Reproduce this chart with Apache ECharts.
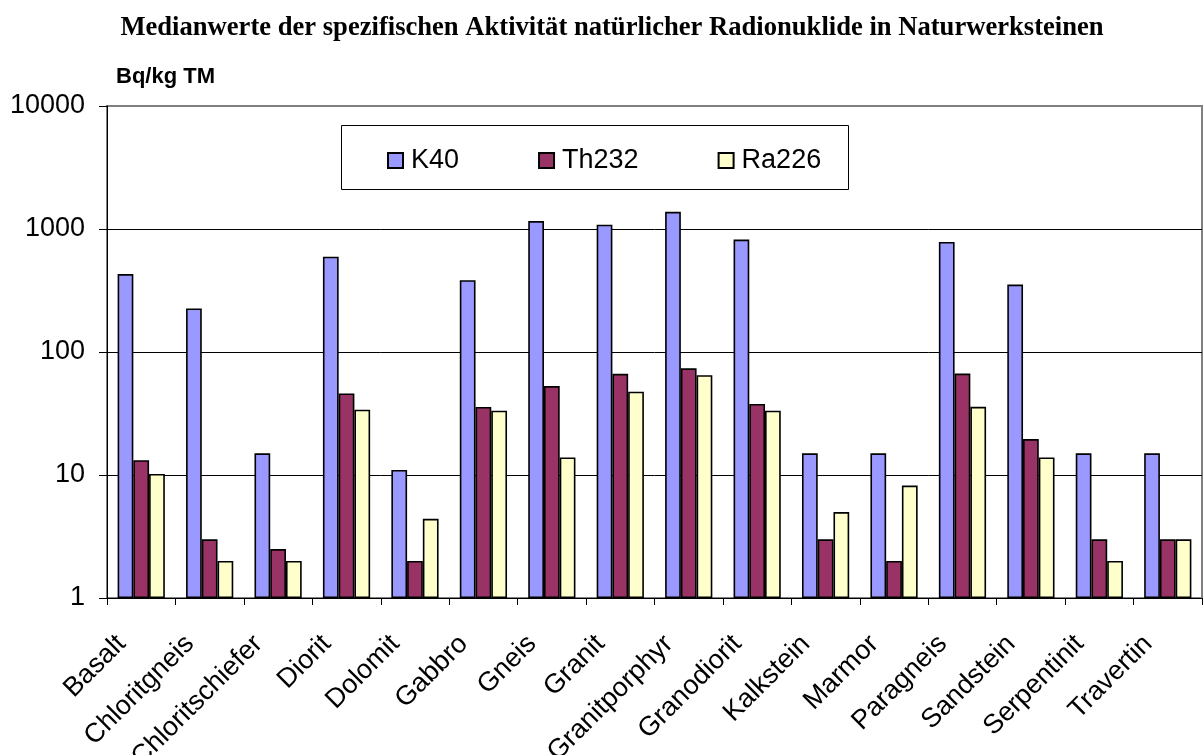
<!DOCTYPE html>
<html>
<head>
<meta charset="utf-8">
<script src="https://cdn.jsdelivr.net/npm/echarts@6/dist/echarts.min.js"></script>
<style>html,body{margin:0;padding:0;background:#fff;}#c{width:1203px;height:755px;}</style>
</head>
<body>
<div id="c"></div>
<script>
const categories = ['Basalt','Chloritgneis','Chloritschiefer','Diorit','Dolomit','Gabbro','Gneis','Granit','Granitporphyr','Granodiorit','Kalkstein','Marmor','Paragneis','Sandstein','Serpentinit','Travertin'];
const k40   = [430, 226, 15, 595, 11, 383, 1160, 1085, 1380, 820, 15, 15, 785, 353, 15, 15];
const th232 = [13.2, 3, 2.5, 46, 2, 35.7, 52.8, 66.4, 73.6, 37.8, 3, 2, 66.8, 19.6, 3, 3];
const ra226 = [10.2, 2, 2, 34, 4.4, 33.3, 13.9, 47.6, 64.7, 33.3, 5, 8.2, 35.8, 13.9, 2, 3];
const seriesNames = ['K40', 'Th232', 'Ra226'];
const yTicks = [1, 10, 100, 1000, 10000];

const chart = echarts.init(document.getElementById('c'), null, {renderer: 'canvas'});
const barStyle = (c) => ({color: c, borderColor: '#000', borderWidth: 1.6});
chart.setOption({
  animation: false,
  backgroundColor: '#fff',
  graphic: [
    {type: 'text', x: 612, y: 28, z: 10,
     style: {text: 'Medianwerte der spezifischen Aktivität natürlicher Radionuklide in Naturwerksteinen',
             font: 'bold 26.6px "Liberation Serif", "Times New Roman", serif', fill: '#000',
             textAlign: 'center', textVerticalAlign: 'middle'}},
    {type: 'text', x: 116, y: 77, z: 10,
     style: {text: 'Bq/kg TM', font: 'bold 22px "Liberation Sans", Arial, sans-serif', fill: '#000',
             textAlign: 'left', textVerticalAlign: 'middle'}},
    {type: 'rect', shape: {x: 341.5, y: 125.5, width: 507, height: 64}, z: 3,
     style: {fill: '#fff', stroke: '#000', lineWidth: 1}}
  ],
  legend: {
    left: 382, top: 142, z: 5,
    itemWidth: 15, itemHeight: 15, itemGap: 79,
    icon: 'rect',
    textStyle: {fontFamily: '"Liberation Sans", Arial, sans-serif', fontSize: 27, color: '#000', padding: [0, 0, 0, 3]},
    data: seriesNames
  },
  grid: {left: 107, right: 1, top: 106, bottom: 157, show: true, borderColor: '#808080', borderWidth: 2,
         containLabel: false, outerBoundsMode: 'none'},
  xAxis: {
    type: 'category', data: categories,
    axisLine: {lineStyle: {color: '#000', width: 1}},
    axisTick: {show: true, alignWithLabel: false, length: 7, lineStyle: {color: '#000'}},
    axisLabel: {rotate: 45, interval: 0, margin: 22, padding: [0, 28, 0, 0],
                fontFamily: '"Liberation Sans", Arial, sans-serif', fontSize: 27, color: '#000'}
  },
  yAxis: {
    type: 'log', logBase: 10, min: 1, max: 10000,
    axisLine: {show: true, lineStyle: {color: '#000', width: 1}},
    axisTick: {show: true, length: 8, lineStyle: {color: '#000'}},
    axisLabel: {margin: 22, fontFamily: '"Liberation Sans", Arial, sans-serif', fontSize: 27, color: '#000',
                formatter: (v) => String(Math.round(v))},
    splitLine: {show: true, showMaxLine: false, lineStyle: {color: '#000', width: 1}},
    minorTick: {show: false}
  },
  series: [
    {name: seriesNames[0], type: 'bar', data: k40, barGap: '0%', barCategoryGap: '31%', itemStyle: barStyle('#9999FF')},
    {name: seriesNames[1], type: 'bar', data: th232, barGap: '0%', barCategoryGap: '31%', itemStyle: barStyle('#993366')},
    {name: seriesNames[2], type: 'bar', data: ra226, barGap: '0%', barCategoryGap: '31%', itemStyle: barStyle('#FFFFCC')}
  ]
});
</script>
</body>
</html>
